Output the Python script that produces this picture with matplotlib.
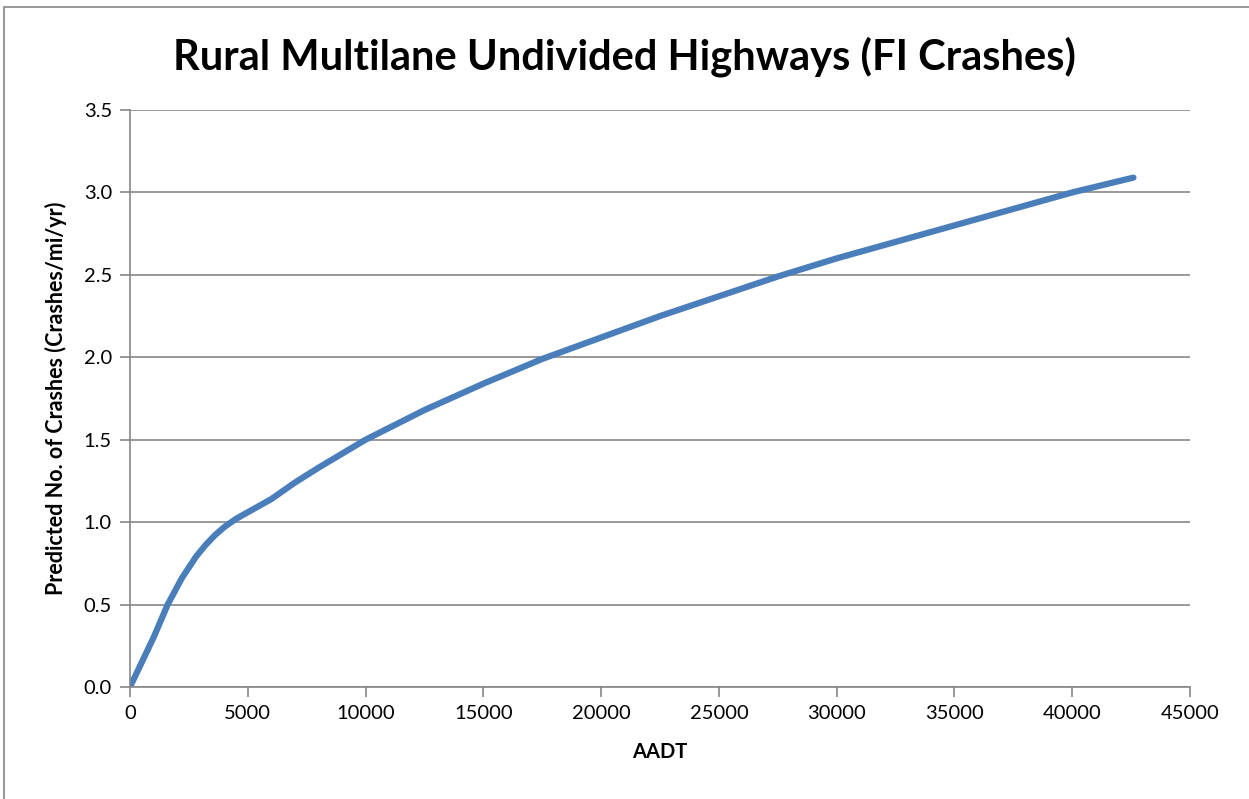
import matplotlib.pyplot as plt
from matplotlib.patches import Rectangle

plt.switch_backend("Agg")
plt.rcParams["font.family"] = ["Lato", "DejaVu Sans"]

aadt = [0, 500, 1000, 1600, 2200, 2800, 3200, 3600, 4000, 4500, 5000, 6000, 7000, 8000,
        10000, 12500, 15000, 17500, 20000, 22500, 25000, 27500, 30000,
        32500, 35000, 37500, 40000, 42600]
crashes = [0.0, 0.15, 0.30, 0.50, 0.66, 0.79, 0.86, 0.92, 0.97, 1.02, 1.06, 1.14, 1.24, 1.33,
           1.50, 1.68, 1.84, 1.99, 2.12, 2.25, 2.37, 2.49, 2.60,
           2.70, 2.80, 2.90, 3.00, 3.09]
x_ticks = list(range(0, 45001, 5000))
y_ticks = [0.0, 0.5, 1.0, 1.5, 2.0, 2.5, 3.0, 3.5]

grey = "#868686"

fig = plt.figure(figsize=(12.49, 7.99), dpi=100)
ax = fig.add_axes([130 / 1249, 1 - 687 / 799, 1060 / 1249, 577 / 799])

ax.plot(aadt, crashes, color="#4a7ebb", linewidth=4.5,
        solid_capstyle="round", solid_joinstyle="round")

ax.set_xlim(0, 45000)
ax.set_ylim(0, 3.5)
ax.set_xticks(x_ticks)
ax.set_yticks(y_ticks)
ax.set_yticklabels([f"{v:.1f}" for v in y_ticks])
ax.grid(axis="y", color=grey, linewidth=1.2)
ax.set_axisbelow(True)
for side in ["top", "right"]:
    ax.spines[side].set_visible(False)
for side in ["left", "bottom"]:
    ax.spines[side].set_color(grey)
    ax.spines[side].set_linewidth(1.2)
ax.tick_params(direction="out", length=7, width=1.2, color=grey,
               labelsize=14.5, pad=6)

ax.set_xlabel("AADT", fontsize=14.5, fontweight="bold", labelpad=14)
ax.set_ylabel("Predicted No. of Crashes (Crashes/mi/yr)", fontsize=15.5,
              fontweight="bold", labelpad=12)
fig.text(0.5, 1 - 57 / 799, "Rural Multilane Undivided Highways (FI Crashes)",
         ha="center", va="center", fontsize=30, fontweight="bold")

# outer chart frame
fig.patches.append(Rectangle((4 / 1249, -0.1), 1.2, 1 - 7 / 799 + 0.1,
                             transform=fig.transFigure, fill=False,
                             edgecolor=grey, linewidth=1.2))

fig.savefig("out.png", dpi=100)
plt.close(fig)
